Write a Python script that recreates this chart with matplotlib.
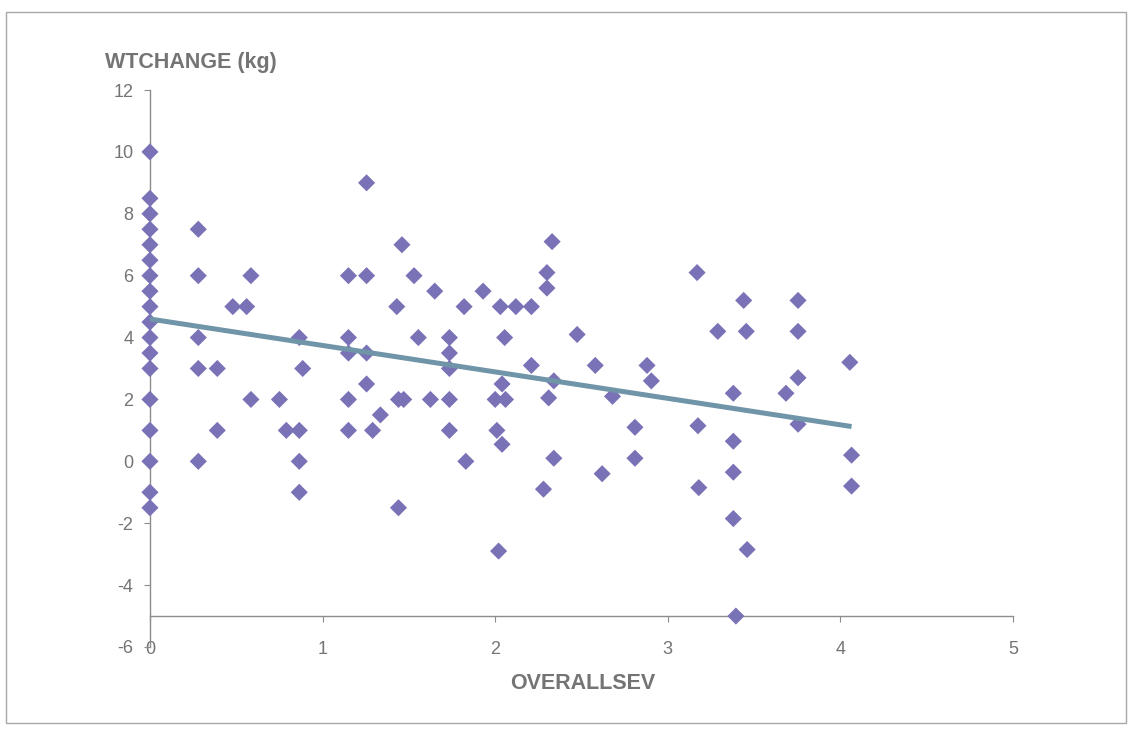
import matplotlib.pyplot as plt
import numpy as np
from matplotlib.patches import Rectangle

plt.rcParams['font.family'] = ['Liberation Sans', 'DejaVu Sans']
plt.rcParams['axes.unicode_minus'] = False

# overall severity score vs weight change (kg), one entry per subject
sev = [0, 0, 0, 0, 0, 0, 0, 0, 0, 0, 0, 0, 0, 0, 0, 0, 0, 0,
       0.28, 0.28, 0.28, 0.28, 0.28,
       0.39, 0.39, 0.48, 0.56, 0.585, 0.585, 0.75, 0.79,
       0.865, 0.865, 0.865, 0.865, 0.885,
       1.15, 1.15, 1.15, 1.15, 1.15,
       1.255, 1.255, 1.255, 1.255, 1.29, 1.335,
       1.43, 1.44, 1.44, 1.46, 1.47, 1.53, 1.555, 1.625, 1.65,
       1.735, 1.735, 1.735, 1.735, 1.735,
       1.82, 1.83, 1.93, 2.0, 2.01, 2.02, 2.03, 2.04, 2.04, 2.055, 2.06,
       2.12, 2.21, 2.21, 2.28, 2.30, 2.30, 2.31, 2.33, 2.34, 2.34,
       2.475, 2.58, 2.62, 2.68, 2.81, 2.81, 2.88, 2.905,
       3.17, 3.175, 3.18, 3.29, 3.38, 3.38, 3.38, 3.38, 3.395,
       3.44, 3.455, 3.46, 3.685, 3.755, 3.755, 3.755, 3.755,
       4.055, 4.065, 4.065]
wtchange = [10, 8.5, 8, 7.5, 7, 6.5, 6, 5.5, 5, 4.5, 4, 3.5, 3, 2, 1, 0, -1, -1.5,
            7.5, 6, 4, 3, 0,
            3, 1, 5, 5, 6, 2, 2, 1,
            4, 1, 0, -1, 3,
            6, 4, 3.5, 2, 1,
            9, 6, 3.5, 2.5, 1, 1.5,
            5, 2, -1.5, 7, 2, 6, 4, 2, 5.5,
            4, 3.5, 3, 2, 1,
            5, 0, 5.5, 2, 1, -2.9, 5, 2.5, 0.55, 4, 2,
            5, 5, 3.1, -0.9, 6.1, 5.6, 2.05, 7.1, 2.6, 0.1,
            4.1, 3.1, -0.4, 2.1, 1.1, 0.1, 3.1, 2.6,
            6.1, 1.15, -0.85, 4.2, 2.2, 0.65, -0.35, -1.85, -5,
            5.2, 4.2, -2.85, 2.2, 5.2, 4.2, 2.7, 1.2,
            3.2, 0.2, -0.8]

# fitted linear trend (kg per severity point)
trend_intercept = 4.6
trend_slope = -0.855

x_ticks = [0, 1, 2, 3, 4, 5]
y_ticks = [-6, -4, -2, 0, 2, 4, 6, 8, 10, 12]

grey = '#747474'
axis_grey = '#8c8c8c'

fig = plt.figure(figsize=(11.31, 7.30), dpi=100)
ax = fig.add_axes([0.1326, 0.1137, 0.763, 0.763])

ax.scatter(sev, wtchange, marker='D', s=76, color='#7a72b6',
           edgecolors='none', clip_on=False, zorder=3)

xs = np.array([0, max(sev)])
ax.plot(xs, trend_intercept + trend_slope * xs, color='#7095a8', lw=3.6,
        solid_capstyle='butt', zorder=4)

ax.set_xlim(0, 5)
ax.set_ylim(-6, 12)
ax.set_xticks(x_ticks)
ax.set_yticks(y_ticks)

for side in ['top', 'right']:
    ax.spines[side].set_visible(False)
ax.spines['bottom'].set_position(('data', -5))
ax.spines['bottom'].set_bounds(0, 5)
ax.spines['left'].set_bounds(-6, 12)
for side in ['bottom', 'left']:
    ax.spines[side].set_color(axis_grey)
    ax.spines[side].set_linewidth(1.0)

ax.tick_params(axis='x', direction='out', length=4, width=0.8,
               color=axis_grey, pad=14, labelsize=13, labelcolor=grey)
ax.tick_params(axis='y', direction='out', length=4, width=0.8,
               color=axis_grey, pad=8, labelsize=13, labelcolor=grey)

fig.text(0.093, 0.915, 'WTCHANGE (kg)', ha='left', va='center',
         fontsize=15.5, fontweight='bold', color=grey)
fig.text(0.451, 0.064, 'OVERALLSEV', ha='left', va='center',
         fontsize=15.5, fontweight='bold', color=grey)

# thin frame around the whole chart
fig.patches.append(Rectangle((0.005, 0.01), 0.991, 0.974, transform=fig.transFigure,
                             fill=False, edgecolor='#a8a8a8', lw=1.0))

fig.savefig('out.png', dpi=100, facecolor='white')
